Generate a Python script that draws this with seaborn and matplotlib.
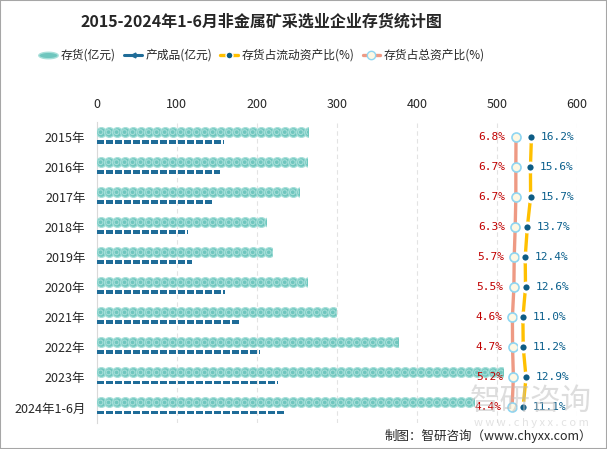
import numpy as np
import pandas as pd
import matplotlib
matplotlib.use("Agg")
import matplotlib.pyplot as plt
import seaborn as sns
from matplotlib.lines import Line2D
from matplotlib.patches import Rectangle

# data
years = ["2015年", "2016年", "2017年", "2018年", "2019年",
         "2020年", "2021年", "2022年", "2023年", "2024年1-6月"]
inventory = [264, 263, 253, 212, 219, 263, 299, 377, 508, 471]        # 存货(亿元)
finished = [159, 154, 145, 114, 119, 161, 179, 204, 227, 234]         # 产成品(亿元)
pct_current = [16.2, 15.6, 15.7, 13.7, 12.4, 12.6, 11.0, 11.2, 12.9, 11.1]  # 存货占流动资产比(%)
pct_total = [6.8, 6.7, 6.7, 6.3, 5.7, 5.5, 4.6, 4.7, 5.2, 4.4]               # 存货占总资产比(%)
x_ticks = [0, 100, 200, 300, 400, 500, 600]

s_inv = "存货(亿元)"
s_fin = "产成品(亿元)"
s_cur = "存货占流动资产比(%)"
s_tot = "存货占总资产比(%)"

df = pd.DataFrame({
    "year": years * 2,
    "value": inventory + finished,
    "series": [s_inv] * len(years) + [s_fin] * len(years),
})

sns.set_style("white")
plt.rcParams['font.family'] = ['Noto Sans CJK SC', 'DejaVu Sans']

fig = plt.figure(figsize=(6.07, 4.49), dpi=100)
ax = fig.add_axes([0.159, 0.059, 0.7916, 0.669])

# invisible bars, used as clip shapes for the pictograms
sns.barplot(data=df, x="value", y="year", hue="series", orient="h",
            hue_order=[s_inv, s_fin], width=0.667, dodge=True,
            palette=["white", "white"], ax=ax, legend=False)

teal = "#6fc6be"
dark_blue = "#1f6c98"
for bar in ax.containers[0]:
    bar.set_facecolor("none"); bar.set_edgecolor("none")
    v = bar.get_width()
    yc = bar.get_y() + bar.get_height() / 2
    xs = np.arange(5, v + 10, 10)
    sc = ax.scatter(xs, [yc] * len(xs), s=50, marker="o", facecolor=teal,
                    edgecolor="#a8e0da", linewidth=0.9, zorder=3)
    sc.set_clip_path(bar)
    sc2 = ax.scatter(xs, [yc] * len(xs), s=12, marker="o", facecolor="none",
                     edgecolor="#a6ded8", linewidth=0.8, zorder=4)
    sc2.set_clip_path(bar)

rect = [(-1, -0.55), (1, -0.55), (1, 0.55), (-1, 0.55)]
for bar in ax.containers[1]:
    bar.set_facecolor("none"); bar.set_edgecolor("none")
    v = bar.get_width()
    yc = bar.get_y() + bar.get_height() / 2
    xs = np.arange(4.5, v + 11, 11.25)
    sc = ax.scatter(xs, [yc] * len(xs), s=26, marker=rect, facecolor=dark_blue,
                    edgecolor="none", zorder=3)
    sc.set_clip_path(bar)

ax.set_xlabel("")
ax.set_ylabel("")
for t in x_ticks[1:]:
    ax.axvline(t, color="#e3e3e3", linestyle=(0, (4, 3)), linewidth=0.8, zorder=0)

# percent lines on a hidden second x scale
ax2 = ax.twiny()
pos = list(range(len(years)))
sns.lineplot(x=pct_total, y=pos, sort=False, orient="y", ax=ax2, color="#ee9a84",
             linewidth=2.4, marker="o", markersize=6.5, markerfacecolor="#fdf8e4",
             markeredgecolor="#8fd6f2", markeredgewidth=1.2)
sns.lineplot(x=pct_current, y=pos, sort=False, orient="y", ax=ax2, color="#ffc000",
             linewidth=2.4, marker="o", markersize=6.5, markerfacecolor="#0d5c85",
             markeredgecolor="white", markeredgewidth=2)
ax2.set_xlim(-249, 44)
ax2.set_xticks([])
ax2.set_xlabel("")
ax2.set_ylabel("")
for k in ax2.spines:
    ax2.spines[k].set_visible(False)

for p, v in zip(pos, pct_total):
    ax2.annotate(f"{v:.1f}%", (v, p), xytext=(-7.5, 0), textcoords="offset points",
                 ha="right", va="center", color="#c00000", fontsize=8,
                 family=["DejaVu Sans Mono"], zorder=6)
for p, v in zip(pos, pct_current):
    ax2.annotate(f"{v:.1f}%", (v, p), xytext=(7, 0), textcoords="offset points",
                 ha="left", va="center", color="#0a5f8c", fontsize=8,
                 family=["DejaVu Sans Mono"], zorder=6)

# main value axis on top (set after twiny, which resets it)
ax.set_xlim(0, 600)
ax.set_xticks(x_ticks)
ax.xaxis.set_ticks_position("top")
ax.xaxis.set_label_position("top")
ax.tick_params(axis="x", length=0, pad=8, labelsize=9, labeltop=True, labelbottom=False)
ax.tick_params(axis="y", length=0, pad=8, labelsize=9)
for k in ["top", "right", "bottom"]:
    ax.spines[k].set_visible(False)
ax.spines["left"].set_color("#d9d9d9")
ax.set_ylim(len(years) - 0.5, -0.5)

# title and legend
fig.text(0.43, 0.951, "2015-2024年1-6月非金属矿采选业企业存货统计图", ha="center",
         va="center", fontsize=11.5, fontweight="bold")

ellipse = [(np.cos(a) * 3, np.sin(a)) for a in np.linspace(0, 2 * np.pi, 40)]
handles = [
    Line2D([], [], linestyle="none", marker=ellipse, markersize=14,
           markerfacecolor=teal, markeredgecolor="#a8e0da"),
    Line2D([], [], color=dark_blue, linewidth=2.2, marker="<", markersize=3.5),
    Line2D([], [], color="#ffc000", linewidth=2.4, marker="o", markersize=5,
           markerfacecolor="#0d5c85", markeredgecolor="white", markeredgewidth=1),
    Line2D([], [], color="#ee9a84", linewidth=2.4, marker="o", markersize=6,
           markerfacecolor="#fdf8e4", markeredgecolor="#8fd6f2"),
]
fig.legend(handles, [s_inv, s_fin, s_cur, s_tot], loc="center",
           bbox_to_anchor=(0.432, 0.877), ncol=4, frameon=False, fontsize=8.5,
           handlelength=1.5, handletextpad=0.3, columnspacing=0.7)

# watermark and source
fig.text(0.875, 0.105, "智研咨询", ha="center", va="center", fontsize=22,
         color="#bdbdbd", alpha=0.5, zorder=10)
fig.text(0.875, 0.058, "w w w . c h y x x . c o m", ha="center", va="center",
         fontsize=8, color="#cfcfcf", alpha=0.6, zorder=10)
fig.text(0.975, 0.029, "制图：智研咨询（www.chyxx.com）", ha="right", va="center",
         fontsize=9)

fig.patches.append(Rectangle((0, 0), 1, 1, transform=fig.transFigure, fill=False,
                             edgecolor="#a6a6a6", linewidth=1.5))

fig.savefig("out.png", dpi=100)
